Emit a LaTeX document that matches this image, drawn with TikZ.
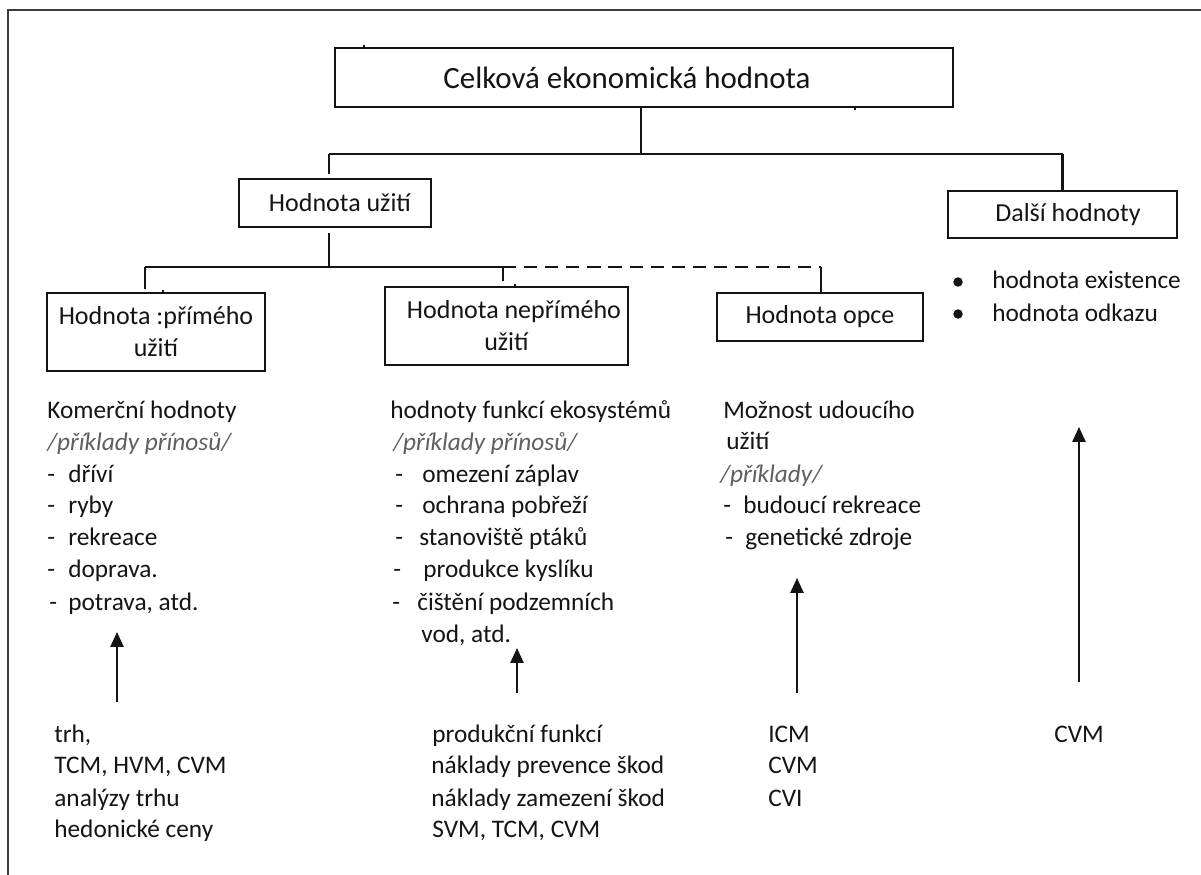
\documentclass[tikz,border=0pt]{standalone}
\usepackage{fontspec}
\setmainfont{Carlito}
\usetikzlibrary{arrows.meta}
\definecolor{ink}{RGB}{20,20,20}
\definecolor{ital}{RGB}{95,95,95}
\definecolor{framec}{RGB}{60,60,60}
\newcommand\dsh[1]{\makebox[#1][l]{-}}
\begin{document}
\begin{tikzpicture}[x=0.02cm,y=-0.02cm,
  box/.style={draw=ink,line width=1.15pt,inner sep=0pt,align=center,text=ink,
    font=\fontsize{14.8}{18.2}\selectfont},
  conn/.style={draw=ink,line width=1.15pt},
  up/.style={conn,-{Triangle[length=8.5pt,width=7.5pt]}},
  txt/.style={anchor=base west,inner sep=0pt,text=ink,font=\fontsize{14.4}{18}\selectfont},
  itxt/.style={anchor=base west,inner sep=0pt,text=ital,font=\fontsize{14.4}{18}\selectfont\itshape},
  tick/.style={draw=ink,line width=0.8pt}]
\useasboundingbox (0,0) rectangle (1201,875);
% frame
\draw[framec,line width=1.2pt] (8,875) -- (8,10) -- (1201,10);

% boxes
\node[box,minimum width=12.36cm,minimum height=1.18cm,font=\fontsize{17.6}{20}\selectfont] (top) at (644,77.5) {Celková ekonomická hodnota\hspace{0.68cm}};
\node[box,minimum width=3.84cm,minimum height=0.96cm] (use) at (335,203) {\hspace{0.2cm}Hodnota užití};
\node[box,minimum width=4.58cm,minimum height=0.94cm] (other) at (1062.5,214.5) {\hspace{0.22cm}Další hodnoty};
\node[box,minimum width=4.36cm,minimum height=1.56cm] (direct) at (156,332) {Hodnota :přímého\\užití};
\node[box,minimum width=4.86cm,minimum height=1.56cm] (indirect) at (506.5,326) {\hspace{0.3cm}Hodnota nepřímého\\užití};
\node[box,minimum width=4.12cm,minimum height=0.96cm] (option) at (820,317) {Hodnota opce};

% junctions
\coordinate (j0) at (641,154);
\coordinate (jl) at (329,154);
\coordinate (jr) at (1062.5,154);
\coordinate (k0) at (329,267);
\coordinate (k1) at (145,267);
\coordinate (k2) at (503,267);
\coordinate (k3) at (821,267);

\draw[conn] (j0 |- top.south) -- (j0);
\draw[conn] (jl) -- (jr);
\draw[conn,shorten >=2.3pt] (jl) -- (use.north -| jl);
\draw[conn] (jr) -- (other.north);
\draw[conn,shorten <=2.8pt] (use.south -| k0) -- (k0);
\draw[conn] (k1) -- (k2);
\draw[conn,dash pattern=on 7.5pt off 4.5pt] (k2) -- (k3);
\draw[conn] (k3) -- (option.north -| k3);
\draw[conn,shorten >=1.7pt] (k1) -- (direct.north -| k1);
\draw[conn,shorten >=2.8pt] (k2) -- (indirect.north -| k2);

% small ticks
\coordinate (t1) at (364,45);
\coordinate (t2) at (855,110);
\coordinate (t3) at (163,290);
\coordinate (t4) at (515,284);
\draw[tick] (t1) -- (t1 |- top.north);
\draw[tick] (t2) -- (t2 |- top.south);
\draw[tick] (t3) -- (t3 |- direct.north);
\draw[tick] (t4) -- (t4 |- indirect.north);

% column 1
\node[txt] (c1a) at (47,418) {Komerční hodnoty};
\node[itxt] (c1b) at (47,450) {/příklady přínosů/};
\node[txt] (c1c) at (47,482) {\dsh{0.42cm}dříví};
\node[txt] (c1d) at (47,513) {\dsh{0.42cm}ryby};
\node[txt] (c1e) at (47,545) {\dsh{0.42cm}rekreace};
\node[txt] (c1f) at (47,577) {\dsh{0.42cm}doprava.};
\node[txt] (c1g) at (49,610) {\dsh{0.38cm}potrava, atd.};

% column 2
\node[txt] (c2a) at (390,418) {hodnoty funkcí ekosystémů};
\node[itxt] (c2b) at (393,450) {/příklady přínosů/};
\node[txt] (c2c) at (395,482) {\dsh{0.54cm}omezení záplav};
\node[txt] (c2d) at (395,513) {\dsh{0.54cm}ochrana pobřeží};
\node[txt] (c2e) at (395,545) {\dsh{0.48cm}stanoviště ptáků};
\node[txt] (c2f) at (393,577) {\dsh{0.60cm}produkce kyslíku};
\node[txt] (c2g) at (392,610) {\dsh{0.50cm}čištění podzemních};
\node[txt] (c2h) at (421,642) {vod, atd.};

% column 3
\node[txt] (c3a) at (723,418) {Možnost udoucího};
\node[txt] (c3b) at (726,449) {užití};
\node[itxt] (c3c) at (720,482) {/příklady/};
\node[txt] (c3d) at (723,513) {\dsh{0.40cm}budoucí rekreace};
\node[txt] (c3e) at (725,545) {\dsh{0.40cm}genetické zdroje};

% column 4 bullets
\fill[ink] (958,282) circle (0.095cm);
\node[txt] (c4a) at (992,288) {hodnota existence};
\fill[ink] (958,314) circle (0.095cm);
\node[txt] (c4b) at (992,321) {hodnota odkazu};

% bottom methods
\node[txt] (m1a) at (54,742) {trh,};
\node[txt] (m1b) at (54,773) {TCM, HVM, CVM};
\node[txt] (m1c) at (54,806) {analýzy trhu};
\node[txt] (m1d) at (54,837) {hedonické ceny};
\node[txt] (m2a) at (432,742) {produkční funkcí};
\node[txt] (m2b) at (431,773) {náklady prevence škod};
\node[txt] (m2c) at (431,806) {náklady zamezení škod};
\node[txt] (m2d) at (432,837) {SVM, TCM, CVM};
\node[txt] (m3a) at (768,742) {ICM};
\node[txt] (m3b) at (768,773) {CVM};
\node[txt] (m3c) at (768,806) {CVI};
\node[txt] (m4a) at (1054,742) {CVM};

% arrows
\coordinate (a1s) at (117,702); \coordinate (a1e) at (117,632);
\coordinate (a2s) at (517,693); \coordinate (a2e) at (517,648);
\coordinate (a3s) at (797,693); \coordinate (a3e) at (797,578);
\coordinate (a4s) at (1079,682); \coordinate (a4e) at (1079,427);
\draw[up] (a1s) -- (a1e);
\draw[up] (a2s) -- (a2e);
\draw[up] (a3s) -- (a3e);
\draw[up] (a4s) -- (a4e);
\end{tikzpicture}
\end{document}
